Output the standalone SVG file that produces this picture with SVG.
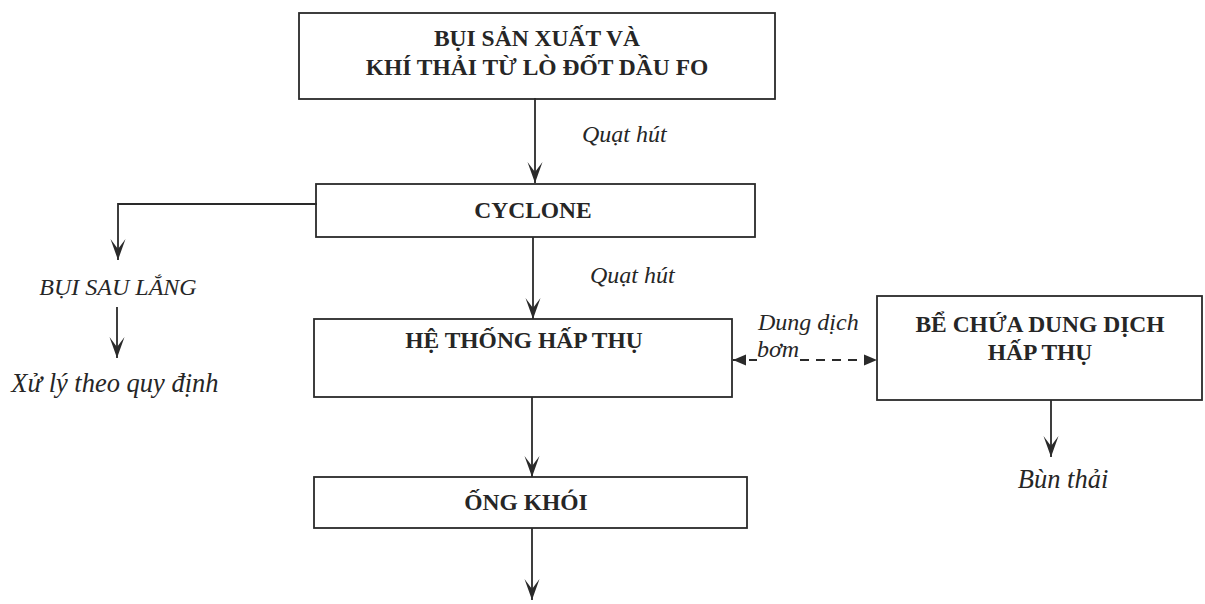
<svg xmlns="http://www.w3.org/2000/svg" width="1205" height="604" viewBox="0 0 1205 604">
<defs>
<style>
.box{fill:none;stroke:#2a2a2a;stroke-width:1.8}
.t{font-family:"Liberation Serif","Times New Roman",serif;font-weight:bold;font-size:23.5px;fill:#262626;text-anchor:middle}
.i{font-family:"Liberation Serif","Times New Roman",serif;font-style:italic;font-size:24px;fill:#262626}
.big{font-size:26.5px}
.ln{fill:none;stroke:#2a2a2a;stroke-width:1.8}
.dash{fill:none;stroke:#2a2a2a;stroke-width:1.8;stroke-dasharray:9,7}
</style>
<marker id="ah" markerUnits="userSpaceOnUse" viewBox="-22 -9 24 18" refX="0" refY="0" markerWidth="24" markerHeight="18" orient="auto">
<path d="M0,0 L-21,-7.5 L-11,0 L-21,7.5 Z" fill="#2a2a2a"/>
</marker>
<marker id="tri" markerUnits="userSpaceOnUse" viewBox="-14 -7 16 14" refX="0" refY="0" markerWidth="16" markerHeight="14" orient="auto-start-reverse">
<path d="M0,0 L-13,-5.5 L-13,5.5 Z" fill="#2a2a2a"/>
</marker>
</defs>
<rect width="1205" height="604" fill="#ffffff"/>
<g id="connectors">
<path class="ln" d="M535,98 V183" marker-end="url(#ah)"/>
<path class="ln" d="M533,237 V319" marker-end="url(#ah)"/>
<path class="ln" d="M317,204 H118 V260" marker-end="url(#ah)"/>
<path class="ln" d="M117,307 V358" marker-end="url(#ah)"/>
<path class="ln" d="M532,397 V477" marker-end="url(#ah)"/>
<path class="ln" d="M532,528 V600" marker-end="url(#ah)"/>
<path class="ln" d="M1051,400 V457" marker-end="url(#ah)"/>
<path class="dash" d="M733,360 H757 M800,360 H877" marker-start="url(#tri)" marker-end="url(#tri)"/>
<text class="i" x="582" y="142">Quạt hút</text>
<text class="i" x="590" y="283">Quạt hút</text>
<text class="i" x="758" y="330">Dung dịch</text>
<text class="i" x="757" y="357">bơm</text>
</g>
<g id="n-source">
<rect class="box" x="299" y="13" width="476" height="86"/>
<text class="t" x="537" y="46">BỤI SẢN XUẤT VÀ</text>
<text class="t" x="537" y="75">KHÍ THẢI TỪ LÒ ĐỐT DẦU FO</text>
</g>
<g id="n-cyclone">
<rect class="box" x="316" y="184" width="439" height="53"/>
<text class="t" x="533" y="218">CYCLONE</text>
</g>
<g id="n-dust">
<text class="i" x="118" y="295" text-anchor="middle">BỤI SAU LẮNG</text>
</g>
<g id="n-handle">
<text class="i big" x="115" y="392" text-anchor="middle">Xử lý theo quy định</text>
</g>
<g id="n-absorb">
<rect class="box" x="314" y="319" width="418" height="78"/>
<text class="t" x="524" y="348">HỆ THỐNG HẤP THỤ</text>
</g>
<g id="n-tank">
<rect class="box" x="877" y="296" width="325" height="104"/>
<text class="t" x="1040" y="332">BỂ CHỨA DUNG DỊCH</text>
<text class="t" x="1040" y="360">HẤP THỤ</text>
</g>
<g id="n-sludge">
<text class="i big" x="1063" y="488" text-anchor="middle">Bùn thải</text>
</g>
<g id="n-stack">
<rect class="box" x="314" y="477" width="433" height="51"/>
<text class="t" x="526" y="510">ỐNG KHÓI</text>
</g>
</svg>
